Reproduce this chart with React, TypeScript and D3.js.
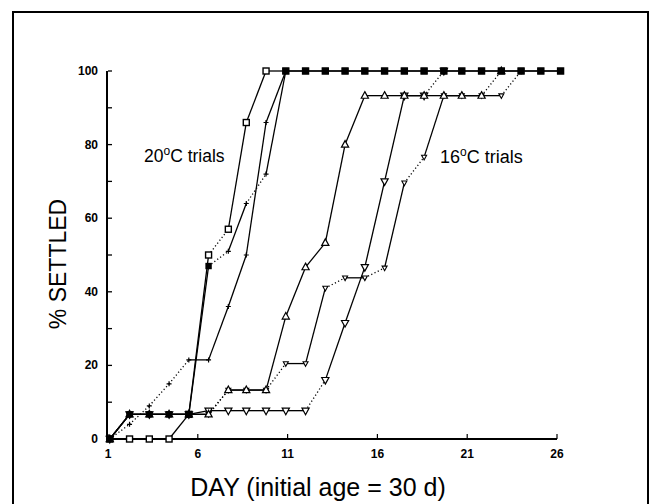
import * as d3 from 'd3';

// sampling days (points sit a little wider than the day ticks)
const sampleDays = [
  1.1, 2.2, 3.3, 4.4, 5.5, 6.6, 7.7, 8.7, 9.8, 10.9, 12.0, 13.1,
  14.2, 15.3, 16.4, 17.5, 18.6, 19.7, 20.7, 21.8, 22.9, 24.0, 25.1, 26.2,
];

// % settled per trial, one value per sampling day from the first
const trialA = [0, 0, 0, 0, 6.7, 50, 57, 86, 100, 100, 100, 100, 100, 100, 100, 100, 100, 100, 100, 100, 100, 100, 100, 100];
const trialB = [0, 6.7, 6.7, 6.7, 6.7, 47, 51, 64, 72, 100, 100, 100, 100, 100, 100, 100, 100, 100, 100, 100, 100, 100, 100, 100];
const trialC = [0, 4, 9, 15, 21.5, 21.5, 36, 50, 86, 100];
const trialD = [0, 6.7, 6.7, 6.7, 6.7, 6.7, 13.3, 13.3, 13.3, 33.3, 46.7, 53.3, 80, 93.3, 93.3, 93.3, 93.3, 93.3, 93.3, 93.3, 100];
const trialE = [0, 6.7, 6.7, 6.7, 6.7, 7.7, 7.7, 7.7, 7.7, 7.7, 7.7, 16, 31.5, 46.7, 70, 93.3, 93.3, 100];
const trialG = [0, 6.7, 6.7, 6.7, 6.7, 6.7, 13.3, 13.3, 13.3, 20.5, 20.5, 41, 43.8, 43.8, 46.5, 69.6, 76.6, 93.3, 93.3, 93.3, 93.3, 100];

const dayTicks = [1, 6, 11, 16, 21, 26];
const pctTicks = [0, 10, 20, 30, 40, 50, 60, 70, 80, 90, 100];
const pctLabels = [0, 20, 40, 60, 80, 100];

type Marker = 'openSquare' | 'filledSquare' | 'plus' | 'triUp' | 'triDown' | 'smallTriDown';

// drawing order: last one ends up on top. `plusAt` = points where the scan only shows a small tick
const series: { name: string; values: number[]; dotted: number[]; marker: Marker; plusAt?: number[] }[] = [
  { name: 'C', values: trialC, dotted: [0, 1, 2, 3], marker: 'plus' },
  { name: 'G', values: trialG, dotted: [5, 8, 11, 13, 15, 20], marker: 'smallTriDown' },
  { name: 'E', values: trialE, dotted: [10, 16], marker: 'triDown' },
  { name: 'D', values: trialD, dotted: [5, 19], marker: 'triUp' },
  { name: 'A', values: trialA, dotted: [5], marker: 'openSquare' },
  { name: 'B', values: trialB, dotted: [0, 5, 7], marker: 'filledSquare', plusAt: [6, 7, 8] },
];

const font = '"Liberation Sans", Arial, Helvetica, sans-serif';

function MarkerShape({ kind, x, y }: { kind: Marker; x: number; y: number }) {
  switch (kind) {
    case 'openSquare':
      return <rect x={x - 3} y={y - 3} width={6} height={6} fill="#fff" stroke="#000" strokeWidth={1.4} />;
    case 'filledSquare':
      return <rect x={x - 3.2} y={y - 3.2} width={6.4} height={6.4} fill="#000" />;
    case 'plus':
      return (
        <path d={`M${x - 2.5},${y}H${x + 2.5}M${x},${y - 2.5}V${y + 2.5}`} stroke="#000" strokeWidth={1.2} />
      );
    case 'triUp':
      return (
        <path d={`M${x},${y - 4}L${x + 3.6},${y + 2.6}L${x - 3.6},${y + 2.6}Z`} fill="#fff" stroke="#000" strokeWidth={1.2} />
      );
    case 'triDown':
      return (
        <path d={`M${x},${y + 4}L${x + 3.6},${y - 2.6}L${x - 3.6},${y - 2.6}Z`} fill="#fff" stroke="#000" strokeWidth={1.2} />
      );
    case 'smallTriDown':
      return (
        <path d={`M${x},${y + 2.8}L${x + 2.5},${y - 1.8}L${x - 2.5},${y - 1.8}Z`} fill="#fff" stroke="#000" strokeWidth={1.1} />
      );
  }
}

export default function App() {
  const width = 651;
  const height = 504;

  const x = d3.scaleLinear().domain([1, 26]).range([108, 557]);
  const y = d3.scaleLinear().domain([0, 100]).range([439, 71]);

  return (
    <svg
      width={width}
      height={height}
      viewBox={`0 0 ${width} ${height}`}
      style={{ position: 'absolute', left: 0, top: 0, background: '#fff' }}
    >
      {/* scanned page frame */}
      <rect x={13} y={12} width={635} height={520} fill="none" stroke="#000" strokeWidth={2} />

      {/* axes */}
      <line x1={x(1) - 1} x2={x(1) - 1} y1={y(100)} y2={y(0) + 1} stroke="#000" strokeWidth={2} />
      <line x1={x(1) - 1} x2={x(26)} y1={y(0)} y2={y(0)} stroke="#000" strokeWidth={2} />
      {pctTicks.map((t) => (
        <line key={t} x1={x(1)} x2={x(1) + 4} y1={y(t)} y2={y(t)} stroke="#000" strokeWidth={1.3} />
      ))}
      {pctLabels.map((t) => (
        <text
          key={t}
          x={x(1) - 10}
          y={y(t) + 4}
          textAnchor="end"
          fontFamily={font}
          fontWeight="bold"
          fontSize={12}
        >
          {t}
        </text>
      ))}
      {dayTicks.map((t) => (
        <g key={t}>
          <line x1={x(t)} x2={x(t)} y1={y(0)} y2={y(0) - 5} stroke="#000" strokeWidth={1.2} />
          <text x={x(t)} y={458} textAnchor="middle" fontFamily={font} fontWeight="bold" fontSize={12}>
            {t}
          </text>
        </g>
      ))}

      <text
        transform={`translate(66, 264) rotate(-90)`}
        textAnchor="middle"
        fontFamily={font}
        fontSize={23}
      >
        % SETTLED
      </text>
      <text x={318} y={496} textAnchor="middle" fontFamily={font} fontSize={25}>
        DAY (initial age = 30 d)
      </text>

      {/* lines, solid and dotted stretches */}
      {series.map((s) =>
        s.values.slice(1).map((v, i) => (
          <line
            key={`${s.name}-${i}`}
            x1={x(sampleDays[i])}
            y1={y(s.values[i])}
            x2={x(sampleDays[i + 1])}
            y2={y(v)}
            stroke="#000"
            strokeWidth={1.3}
            strokeDasharray={s.dotted.includes(i) ? '1.2 2.4' : undefined}
          />
        ))
      )}

      {series.map((s) =>
        s.values.map((v, i) => (
          <MarkerShape
            key={`${s.name}-m${i}`}
            kind={s.plusAt?.includes(i) ? 'plus' : s.marker}
            x={x(sampleDays[i])}
            y={y(v)}
          />
        ))
      )}

      <text x={144} y={162} fontFamily={font} fontSize={17.5}>
        20
        <tspan dy={-7} fontSize={12}>o</tspan>
        <tspan dy={7}>C trials</tspan>
      </text>
      <text x={440} y={163} fontFamily={font} fontSize={18}>
        16
        <tspan dy={-7} fontSize={12}>o</tspan>
        <tspan dy={7}>C trials</tspan>
      </text>
    </svg>
  );
}
